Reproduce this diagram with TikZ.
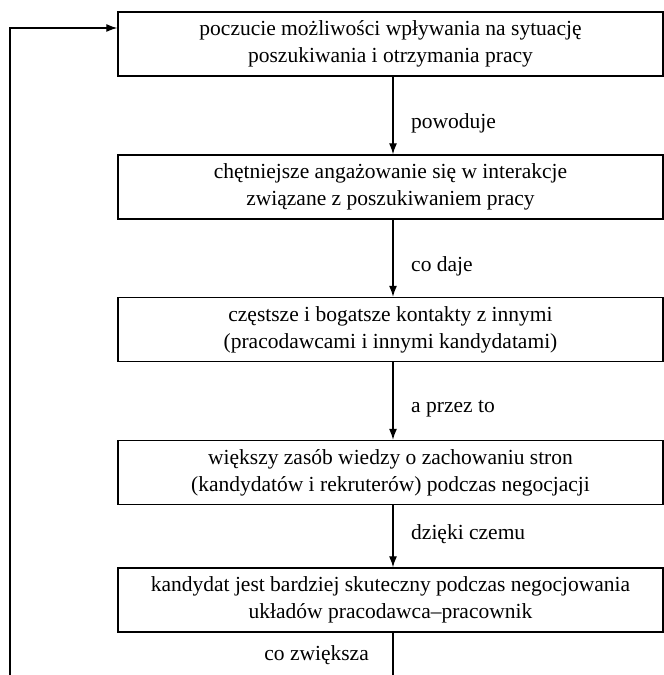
\documentclass[tikz,border=0pt]{standalone}
\usepackage{fontspec}
\setmainfont{Liberation Serif}
\usetikzlibrary{arrows.meta}
\begin{document}
\begin{tikzpicture}[x=1pt,y=1pt,
  stage/.style={draw, line width=1.4pt, minimum width=545pt, minimum height=64pt,
    align=center, inner sep=0pt, font=\fontsize{21.5}{27}\selectfont},
  flow/.style={line width=1.3pt, -{Latex[length=11pt,width=8pt]}},
  link/.style={line width=1.3pt},
  tag/.style={anchor=west, inner sep=0pt, font=\fontsize{21.5}{24}\selectfont}]
\useasboundingbox (0,0) rectangle (664,675);
\clip (0,0) rectangle (664,675);

% the five stages of the cycle
\node[stage] (b1) at (390.5,631) {poczucie możliwości wpływania na sytuację\\poszukiwania i otrzymania pracy};
\node[stage] (b2) at (390.5,488) {chętniejsze angażowanie się w interakcje\\związane z poszukiwaniem pracy};
\node[stage] (b3) at (390.5,345.5) {częstsze i bogatsze kontakty z innymi\\(pracodawcami i innymi kandydatami)};
\node[stage] (b4) at (390.5,202.5) {większy zasób wiedzy o zachowaniu stron\\(kandydatów i rekruterów) podczas negocjacji};
\node[stage] (b5) at (390.5,75) {kandydat jest bardziej skuteczny podczas negocjowania\\układów pracodawca–pracownik};

% column of the vertical connectors and the return path
\coordinate (ax) at (393,0);
\coordinate (lb) at (10,-5);
\coordinate (ab) at (393,-5);
\coordinate (lt) at (10,647);

\draw[flow] (b1.south -| ax) -- (b2.north -| ax);
\draw[flow] (b2.south -| ax) -- (b3.north -| ax);
\draw[flow] (b3.south -| ax) -- (b4.north -| ax);
\draw[flow] (b4.south -| ax) -- (b5.north -| ax);
\draw[link] (b5.south -| ax) -- (ab);
\draw[flow] (lb) -- (lt) -- (lt -| b1.west);

% connector labels
\node[tag] (t1) at (411,552) {powoduje};
\node[tag] (t2) at (411,409) {co daje};
\node[tag] (t3) at (411,266) {a przez to};
\node[tag] (t4) at (411,141) {dzięki czemu};
\node[tag, anchor=east] (t5) at (369,20) {co zwiększa};
\end{tikzpicture}
\end{document}
